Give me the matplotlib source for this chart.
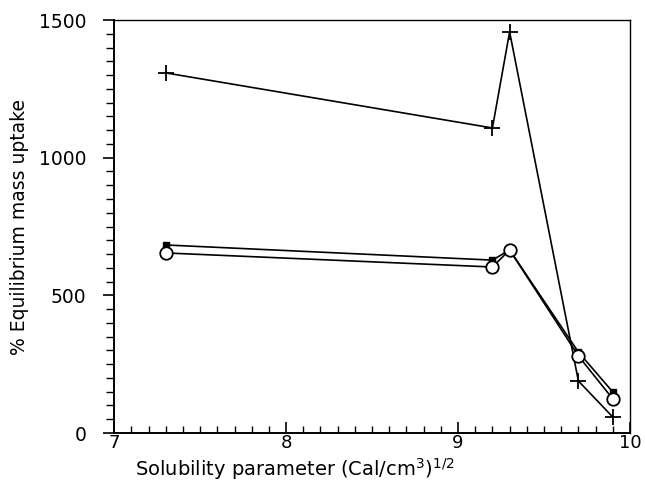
import numpy as np
import matplotlib
matplotlib.use('Agg')
import matplotlib.pyplot as plt
from matplotlib.ticker import MultipleLocator

# solubility parameter of each solvent
delta = [7.3, 9.2, 9.3, 9.7, 9.9]

# equilibrium mass uptake (%) for the three materials
uptakePlus = [1308, 1108, 1457, 189, 58]
uptakeSquare = [683, 628, 665, 294, 149]
uptakeCircle = [654, 603, 665, 280, 124]

fig = plt.figure(figsize=(6.45, 4.83), dpi=100)
ax = fig.add_axes([0.177, 0.1035, 0.7997, 0.855])

ax.plot(delta, uptakePlus, color='black', lw=1.2, marker='+', ms=11, mew=1.3)
ax.plot(delta, uptakeSquare, color='black', lw=1.2, marker='s', ms=5, mfc='black')
ax.plot(delta, uptakeCircle, color='black', lw=1.2, marker='o', ms=9, mfc='white', mew=1.3)

ax.set_xlim(7, 10)
ax.set_ylim(0, 1500)
ax.xaxis.set_major_locator(MultipleLocator(1))
ax.xaxis.set_minor_locator(MultipleLocator(0.1))
ax.yaxis.set_major_locator(MultipleLocator(500))
ax.yaxis.set_minor_locator(MultipleLocator(50))

ax.tick_params(axis='x', which='both', direction='in', top=False, labelsize=13, pad=1)
ax.tick_params(axis='x', which='major', length=8, width=1.2)
ax.tick_params(axis='x', which='minor', length=5, width=1.0)
ax.tick_params(axis='y', which='both', direction='out', right=False, labelsize=13.5, pad=12)
ax.tick_params(axis='y', which='major', length=8, width=1.2)
ax.tick_params(axis='y', which='minor', length=6, width=1.0)

for side in ['left', 'bottom']:
    ax.spines[side].set_linewidth(1.4)
for side in ['top', 'right']:
    ax.spines[side].set_linewidth(1.0)

ax.set_xlabel('Solubility parameter (Cal/cm$^3$)$^{1/2}$', fontsize=14)
ax.xaxis.set_label_coords(0.35, -0.056)
ax.set_ylabel('% Equilibrium mass uptake', fontsize=13.5)
ax.yaxis.set_label_coords(-0.165, 0.5)

fig.savefig('out.png', dpi=100)
